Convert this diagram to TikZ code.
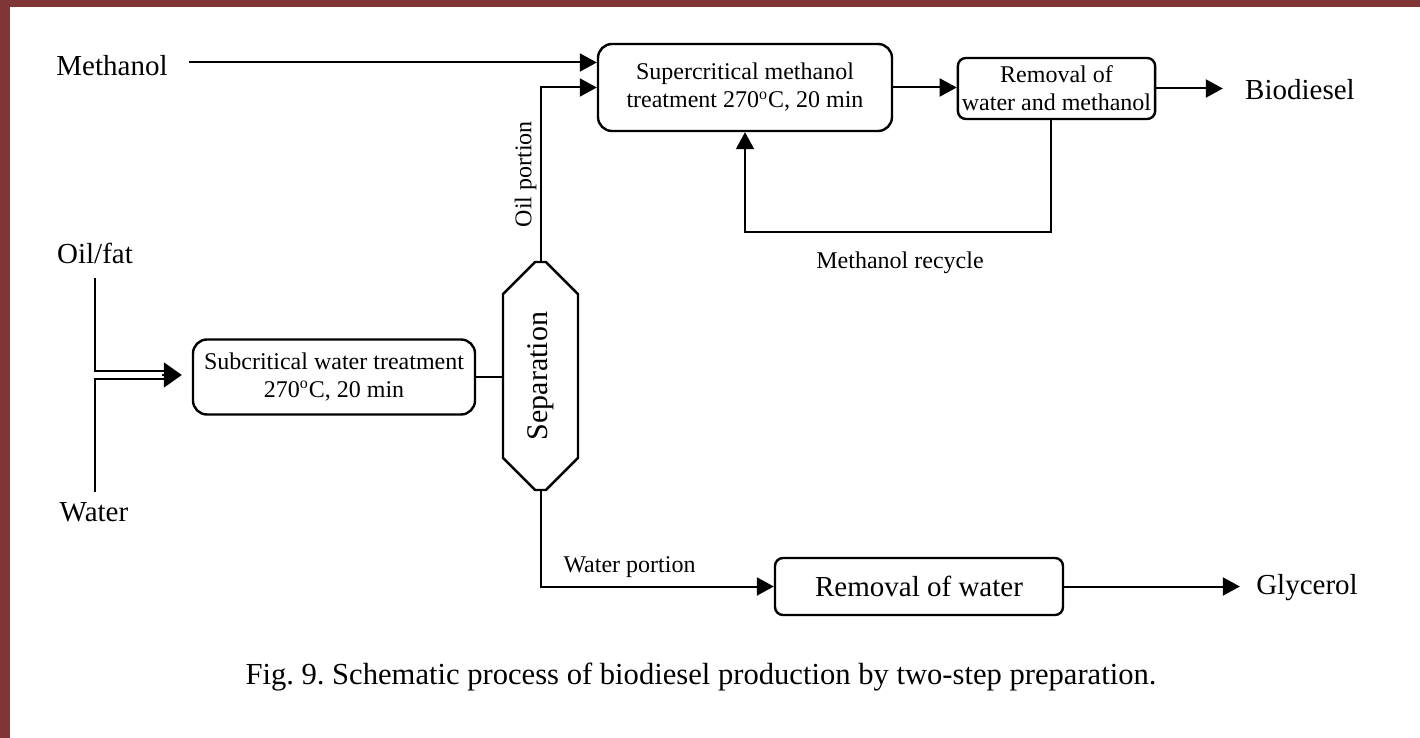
\documentclass[tikz,border=0pt]{standalone}
\usepackage{fontspec}
\setmainfont{Liberation Serif}
\usepackage{graphicx}
\usetikzlibrary{shapes.misc, arrows.meta, positioning, calc}
\definecolor{frame}{RGB}{128,54,54}
\tikzset{
  blk/.style  ={rectangle, rounded corners=7pt, draw=black, line width=1.2pt, fill=white,
                align=center, font=\fontsize{12}{14}\selectfont, inner sep=2pt},
  blks/.style ={blk, rounded corners=4pt},
  sepb/.style ={chamfered rectangle, chamfered rectangle sep=9.5pt, draw=black, line width=1.2pt,
                minimum width=37.5pt, minimum height=114pt, inner sep=0pt,
                font=\fontsize{15}{18}\selectfont},
  lbl/.style  ={inner sep=0pt, font=\fontsize{14.5}{17}\selectfont},
  lbls/.style ={inner sep=0pt, font=\fontsize{12}{14}\selectfont},
  ln/.style   ={draw=black, line width=1pt},
  ar/.style   ={ln, -{Triangle[length=8.5pt, width=9pt]}},
  arw/.style  ={ln, -{Triangle[length=9pt, width=12.5pt]}},
}
\frenchspacing
\begin{document}
\begin{tikzpicture}[x=0.5pt, y=-0.5pt]
% frame
\fill[frame] (0,0) rectangle (1420,738);
\fill[white] (10,7) rectangle (1420,738);

% inputs and products
\node[lbl] (meth) at (112,66) {Methanol};
\node[lbl] (oil) at (95,253) {Oil/fat};
\node[lbl] (wat) at (94,512) {Water};
\node[lbl] (biod) at (1300,90) {Biodiesel};
\node[lbl] (glyc) at (1307,588) {Glycerol};

% process units
\node[blk, minimum width=141pt, minimum height=37.5pt] (subw) at (334,377)
  {Subcritical water treatment\\270\textsuperscript{o}C, 20 min};
\node[sepb] (sep) at (540.5,376) {\rotatebox{90}{Separation}};
\node[blk, minimum width=147pt, minimum height=43.5pt] (supm) at (745,87.5)
  {Supercritical methanol\\treatment 270\textsuperscript{o}C, 20 min};
\node[blks, minimum width=96.5pt, minimum height=30.5pt] (remwm) at (1056.5,88.5)
  {Removal of\\water and methanol};
\node[blks, minimum width=144pt, minimum height=28.5pt, font=\fontsize{14.5}{17}\selectfont] (remw) at (919,586.5)
  {Removal of water};

% feed lines
\coordinate (jn) at ($(subw.west)+(-20,-2)$);
\draw[ln] ([yshift=-7pt]oil.south) |- ([yshift=2pt]jn);
\draw[ln] ([yshift=5pt]wat.north -| oil.south) |- ([yshift=-2pt]jn);
\draw[arw] ([xshift=-5pt]jn) -- ([xshift=-5pt]subw.west |- jn);
\draw[ln] (subw.east) -- (subw.east -| sep.west);

% oil side
\coordinate (m_in) at ($(supm.west)+(0,-25)$);
\draw[ar, shorten <=10.5pt] (meth.east |- m_in) -- (m_in);
\draw[ar] (sep.north) |- node[lbls, pos=0.25, rotate=90, anchor=south, inner sep=1.5pt] (oilp) {Oil portion} (supm.west);
\draw[ar] (supm.east) -- (supm.east -| remwm.west);
\draw[ar, shorten >=11pt] (remwm.east) -- (remwm.east -| biod.west);
\coordinate (rc) at (900,232);
\draw[ar] ([xshift=-3pt]remwm.south) |- (rc) -| (supm.south);
\node[lbls, below=9.5pt of rc] (mrec) {Methanol recycle};

% water side
\draw[ar] (sep.south) |- node[lbls, pos=0.53, anchor=south west, inner sep=4pt] (watp) {Water portion} (remw.west);
\draw[ar, shorten >=8pt] (remw.east) -- (remw.east -| glyc.west);

% caption
\node[font=\fontsize{15.3}{18}\selectfont] (cap) at (701,677)
  {Fig. 9. Schematic process of biodiesel production by two-step preparation.};
\end{tikzpicture}
\end{document}
